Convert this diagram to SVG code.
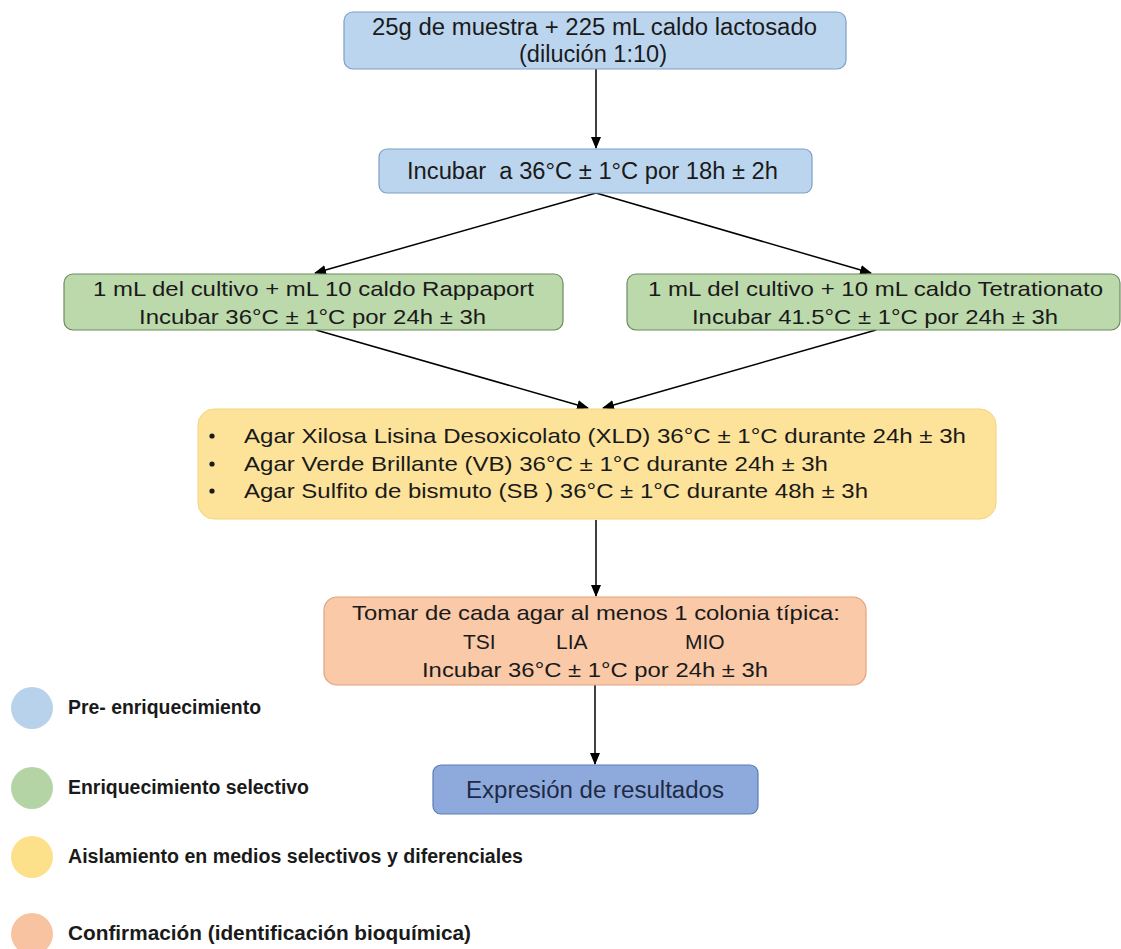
<svg xmlns="http://www.w3.org/2000/svg" width="1121" height="949" viewBox="0 0 1121 949">
<style>
text{font-family:"Liberation Sans",Arial,sans-serif;fill:#1a1a1a}
.b{font-size:23px}
.m{font-size:21px}
.l{font-size:19.5px;font-weight:bold}
.blue{fill:#bcd5ee;stroke:#7f9fc8;stroke-width:1.2}
.green{fill:#bcd9ac;stroke:#6e8a60;stroke-width:1.2}
.yellow{fill:#fde39a;stroke:#f3d37c;stroke-width:1}
.orange{fill:#f9c9a8;stroke:#e3a27c;stroke-width:1.2}
.dblue{fill:#8eaadc;stroke:#5b7cb6;stroke-width:1.2}
.edge{stroke:#000;stroke-width:1.5;fill:none;marker-end:url(#ah)}
</style>
<defs>
<marker id="ah" markerWidth="12" markerHeight="10" refX="11" refY="5" orient="auto" markerUnits="userSpaceOnUse">
<path d="M0,0 L12,5 L0,10 Z" fill="#000"/>
</marker>
</defs>
<rect width="1121" height="949" fill="#fff"/>
<g id="connectors">
<line class="edge" x1="596" y1="69" x2="596" y2="148"/>
<line class="edge" x1="596" y1="193" x2="315" y2="273"/>
<line class="edge" x1="596" y1="193" x2="871" y2="273"/>
<line class="edge" x1="316" y1="330" x2="588" y2="408"/>
<line class="edge" x1="876" y1="330" x2="603" y2="408"/>
<line class="edge" x1="596" y1="520" x2="596" y2="596"/>
<line class="edge" x1="595" y1="685" x2="595" y2="764"/>
</g>
<g id="n1">
<rect class="blue" x="344" y="12" width="502" height="57" rx="9"/>
<text class="b" x="372" y="35" textLength="445" lengthAdjust="spacingAndGlyphs">25g de muestra + 225 mL caldo lactosado</text>
<text class="b" x="519" y="62" textLength="148" lengthAdjust="spacingAndGlyphs">(dilución 1:10)</text>
</g>
<g id="n2">
<rect class="blue" x="379" y="149" width="433" height="44" rx="8"/>
<text class="b" x="407" y="179" textLength="371" lengthAdjust="spacingAndGlyphs" xml:space="preserve">Incubar  a 36°C ± 1°C por 18h ± 2h</text>
</g>
<g id="n3">
<rect class="green" x="64" y="274" width="499" height="56" rx="9"/>
<text class="m" x="93" y="296" textLength="441" lengthAdjust="spacingAndGlyphs">1 mL del cultivo + mL 10 caldo Rappaport</text>
<text class="m" x="139" y="324" textLength="347" lengthAdjust="spacingAndGlyphs">Incubar 36°C ± 1°C por 24h ± 3h</text>
</g>
<g id="n4">
<rect class="green" x="627" y="274" width="493" height="56" rx="9"/>
<text class="m" x="648" y="296" textLength="455" lengthAdjust="spacingAndGlyphs">1 mL del cultivo + 10 mL caldo Tetrationato</text>
<text class="m" x="692" y="324" textLength="366" lengthAdjust="spacingAndGlyphs">Incubar 41.5°C ± 1°C por 24h ± 3h</text>
</g>
<g id="n5">
<rect class="yellow" x="198" y="409" width="798" height="110" rx="16"/>
<circle cx="212" cy="436" r="2.6" fill="#1a1a1a"/>
<circle cx="212" cy="464" r="2.6" fill="#1a1a1a"/>
<circle cx="212" cy="491" r="2.6" fill="#1a1a1a"/>
<text class="m" x="244" y="443" textLength="722" lengthAdjust="spacingAndGlyphs">Agar Xilosa Lisina Desoxicolato (XLD) 36°C ± 1°C durante 24h ± 3h</text>
<text class="m" x="244" y="471" textLength="584" lengthAdjust="spacingAndGlyphs">Agar Verde Brillante (VB) 36°C ± 1°C durante 24h ± 3h</text>
<text class="m" x="244" y="498" textLength="624" lengthAdjust="spacingAndGlyphs">Agar Sulfito de bismuto (SB ) 36°C ± 1°C durante 48h ± 3h</text>
</g>
<g id="n6">
<rect class="orange" x="324" y="597" width="542" height="88" rx="13"/>
<text class="m" x="352" y="620" textLength="488" lengthAdjust="spacingAndGlyphs">Tomar de cada agar al menos 1 colonia típica:</text>
<text class="m" x="463" y="649">TSI</text>
<text class="m" x="556" y="649">LIA</text>
<text class="m" x="685" y="649">MIO</text>
<text class="m" x="422" y="677" textLength="346" lengthAdjust="spacingAndGlyphs">Incubar 36°C ± 1°C por 24h ± 3h</text>
</g>
<g id="n7">
<rect class="dblue" x="433" y="765" width="325" height="49" rx="8"/>
<text x="466" y="798" font-size="23" style="fill:#1f2b45" textLength="258" lengthAdjust="spacingAndGlyphs">Expresión de resultados</text>
</g>
<g id="legend">
<circle cx="32" cy="708" r="21" fill="#b8d2ec"/>
<text class="l" x="68" y="714" textLength="193" lengthAdjust="spacingAndGlyphs">Pre- enriquecimiento</text>
<circle cx="32" cy="788" r="21" fill="#b5d4a6"/>
<text class="l" x="68" y="794" textLength="241" lengthAdjust="spacingAndGlyphs">Enriquecimiento selectivo</text>
<circle cx="32" cy="857" r="21" fill="#fde08a"/>
<text class="l" x="68" y="863" textLength="455" lengthAdjust="spacingAndGlyphs">Aislamiento en medios selectivos y diferenciales</text>
<circle cx="32" cy="934" r="21" fill="#f8c3a0"/>
<text class="l" x="68" y="940" textLength="403" lengthAdjust="spacingAndGlyphs">Confirmación (identificación bioquímica)</text>
</g>
</svg>
